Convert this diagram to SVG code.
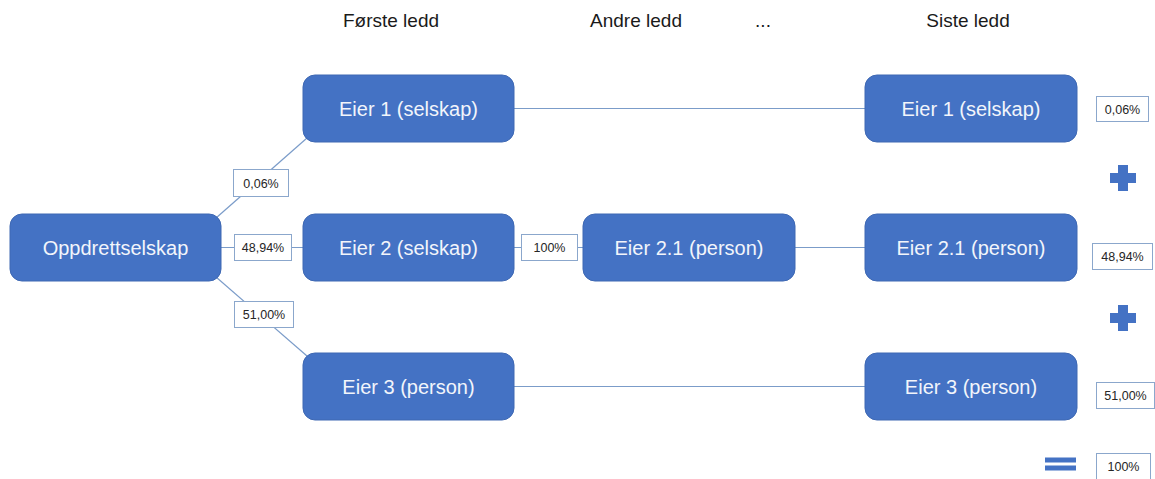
<svg xmlns="http://www.w3.org/2000/svg" width="1155" height="479" viewBox="0 0 1155 479">
  <style>
    .node rect { fill: #4472c4; stroke: #3e68b3; stroke-width: 1; }
    .node text { fill: #f2f5fb; font-family: "Liberation Sans", Arial, sans-serif; font-size: 20px; text-anchor: middle; }
    .head { fill: #1a1a1a; font-family: "Liberation Sans", Arial, sans-serif; font-size: 19px; text-anchor: middle; }
    .conn line { stroke: #7b9cc9; stroke-width: 1.2; }
    .lbl rect { fill: #ffffff; stroke: #8ba7cc; stroke-width: 1; }
    .lbl text { fill: #262626; font-family: "Liberation Sans", Arial, sans-serif; font-size: 12.5px; text-anchor: middle; }
    .op { fill: #4472c4; }
  </style>

  <!-- column headings -->
  <text class="head" x="391" y="27">Første ledd</text>
  <text class="head" x="636" y="27">Andre ledd</text>
  <text class="head" x="763" y="27">...</text>
  <text class="head" x="968" y="27">Siste ledd</text>

  <!-- connectors -->
  <g id="connectors" class="conn">
    <line x1="216" y1="218" x2="307" y2="138"/>
    <line x1="221" y1="247.5" x2="303" y2="247.5"/>
    <line x1="216" y1="277" x2="307" y2="356"/>
    <line x1="514" y1="108.5" x2="865" y2="108.5"/>
    <line x1="514" y1="247.5" x2="583" y2="247.5"/>
    <line x1="795" y1="247.5" x2="865" y2="247.5"/>
    <line x1="514" y1="386.5" x2="865" y2="386.5"/>
  </g>

  <!-- nodes -->
  <g id="oppdrettselskap" class="node">
    <rect x="10" y="214" width="211" height="67" rx="12"/>
    <text x="115.5" y="255">Oppdrettselskap</text>
  </g>
  <g id="eier1" class="node">
    <rect x="303" y="75" width="211" height="67" rx="12"/>
    <text x="408.5" y="116">Eier 1 (selskap)</text>
  </g>
  <g id="eier2" class="node">
    <rect x="303" y="214" width="211" height="67" rx="12"/>
    <text x="408.5" y="255">Eier 2 (selskap)</text>
  </g>
  <g id="eier3" class="node">
    <rect x="303" y="353" width="211" height="67" rx="12"/>
    <text x="408.5" y="394">Eier 3 (person)</text>
  </g>
  <g id="eier21" class="node">
    <rect x="583" y="214" width="212" height="67" rx="12"/>
    <text x="689" y="255">Eier 2.1 (person)</text>
  </g>
  <g id="siste-eier1" class="node">
    <rect x="865" y="75" width="212" height="67" rx="12"/>
    <text x="971" y="116">Eier 1 (selskap)</text>
  </g>
  <g id="siste-eier21" class="node">
    <rect x="865" y="214" width="212" height="67" rx="12"/>
    <text x="971" y="255">Eier 2.1 (person)</text>
  </g>
  <g id="siste-eier3" class="node">
    <rect x="865" y="353" width="212" height="67" rx="12"/>
    <text x="971" y="394">Eier 3 (person)</text>
  </g>

  <!-- ownership shares -->
  <g id="shares" class="lbl">
    <rect x="233.5" y="169.5" width="55" height="27"/>
    <text x="261" y="187.5">0,06%</text>
    <rect x="234.5" y="234.5" width="57" height="26"/>
    <text x="263" y="252">48,94%</text>
    <rect x="234.5" y="301.5" width="59" height="26"/>
    <text x="264" y="319">51,00%</text>
    <rect x="521.5" y="234.5" width="56" height="26"/>
    <text x="549.5" y="252">100%</text>
  </g>

  <!-- sum column -->
  <g id="sum" class="lbl">
    <rect x="1096.5" y="96.5" width="52" height="25"/>
    <text x="1122.5" y="113.5">0,06%</text>
    <rect x="1092.5" y="243.5" width="60" height="26"/>
    <text x="1122.5" y="261">48,94%</text>
    <rect x="1096.5" y="382.5" width="58" height="26"/>
    <text x="1125.5" y="400">51,00%</text>
    <rect x="1096.5" y="453.5" width="54" height="30"/>
    <text x="1123.5" y="471">100%</text>
  </g>
  <g id="operators" class="op">
    <path d="M1118,165 h10 v8 h8 v10 h-8 v8 h-10 v-8 h-8 v-10 h8 z"/>
    <path d="M1118,305 h10 v8 h8 v10 h-8 v8 h-10 v-8 h-8 v-10 h8 z"/>
    <rect x="1045" y="457.5" width="31" height="5"/>
    <rect x="1045" y="465.5" width="31" height="5"/>
  </g>
</svg>
